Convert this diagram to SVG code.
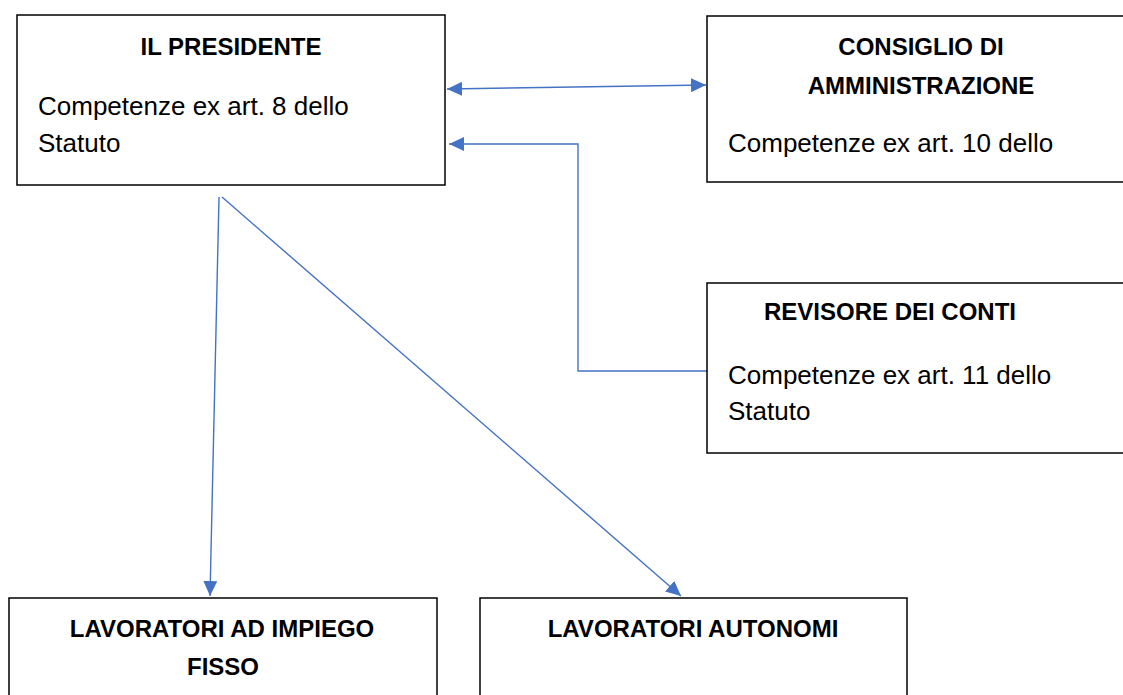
<svg xmlns="http://www.w3.org/2000/svg" width="1123" height="695" viewBox="0 0 1123 695">
<defs>
<style>
.box{fill:#fff;stroke:#000;stroke-width:1.5}
.t{font-family:"Liberation Sans",Arial,sans-serif;font-size:24px;font-weight:bold;fill:#000;text-anchor:middle}
.b{font-family:"Liberation Sans",Arial,sans-serif;font-size:26px;fill:#000}
.c{fill:none;stroke:#4472C4;stroke-width:1.4}
</style>
<marker id="ah" viewBox="0 0 15 14" refX="15" refY="7" markerWidth="15" markerHeight="14" markerUnits="userSpaceOnUse" orient="auto-start-reverse">
<path d="M0,0 L15,7 L0,14 Z" fill="#4472C4"/>
</marker>
</defs>
<rect width="1123" height="695" fill="#fff"/>
<g id="connectors">
<line class="c" x1="447" y1="89" x2="706" y2="85" marker-start="url(#ah)" marker-end="url(#ah)"/>
<polyline class="c" points="707,371 578,371 578,144 449,144" marker-end="url(#ah)"/>
<line class="c" x1="219" y1="197" x2="210" y2="596" marker-end="url(#ah)"/>
<line class="c" x1="222" y1="197" x2="681" y2="596" marker-end="url(#ah)"/>
</g>
<g id="presidente">
<rect class="box" x="17" y="15" width="428" height="170"/>
<text class="t" x="231" y="55">IL PRESIDENTE</text>
<text class="b" x="38" y="115">Competenze ex art. 8 dello</text>
<text class="b" x="38" y="152">Statuto</text>
</g>
<g id="consiglio">
<rect class="box" x="707" y="16" width="430" height="166"/>
<text class="t" x="921" y="55">CONSIGLIO DI</text>
<text class="t" x="921" y="94">AMMINISTRAZIONE</text>
<text class="b" x="728" y="152">Competenze ex art. 10 dello</text>
</g>
<g id="revisore">
<rect class="box" x="707" y="283" width="430" height="170"/>
<text class="t" x="890" y="320">REVISORE DEI CONTI</text>
<text class="b" x="728" y="384">Competenze ex art. 11 dello</text>
<text class="b" x="728" y="420">Statuto</text>
</g>
<g id="impiego-fisso">
<rect class="box" x="9" y="598" width="428" height="110"/>
<text class="t" x="222" y="637">LAVORATORI AD IMPIEGO</text>
<text class="t" x="223" y="675">FISSO</text>
</g>
<g id="autonomi">
<rect class="box" x="480" y="598" width="427" height="110"/>
<text class="t" x="693" y="637">LAVORATORI AUTONOMI</text>
</g>
</svg>
